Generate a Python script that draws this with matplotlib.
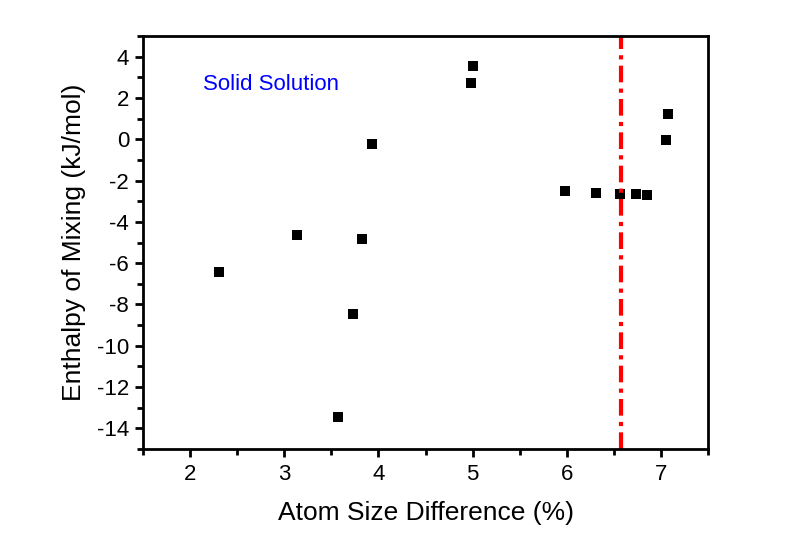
import matplotlib.pyplot as plt
from matplotlib.ticker import MultipleLocator

# atom size difference (%) and enthalpy of mixing (kJ/mol)
size_diff = [2.31, 3.14, 3.57, 3.73, 3.82, 3.93, 4.98, 5.00,
             5.98, 6.31, 6.56, 6.73, 6.85, 7.05, 7.07]
enthalpy = [-6.45, -4.65, -13.45, -8.45, -4.85, -0.25, 2.7, 3.55,
            -2.5, -2.6, -2.65, -2.65, -2.7, -0.05, 1.2]
boundary = 6.58

plt.rcParams['font.family'] = ['Liberation Sans', 'DejaVu Sans']
plt.rcParams['axes.unicode_minus'] = False

fig = plt.figure(figsize=(8.09, 5.53), dpi=100)
ax = fig.add_axes([0.1768, 0.188, 0.6984, 0.7469])

ax.plot(size_diff, enthalpy, 's', color='black', ms=6.5, mew=0)
ax.axvline(boundary, color='red', lw=3, linestyle=(0, (4, 1.5, 1, 1.5)))

ax.text(2.14, 2.38, "Solid Solution", color='blue', fontsize=16,
        va='baseline')

ax.set_xlim(1.5, 7.5)
ax.set_ylim(-15, 5)
ax.xaxis.set_major_locator(MultipleLocator(1))
ax.xaxis.set_minor_locator(MultipleLocator(0.5))
ax.yaxis.set_major_locator(MultipleLocator(2))
ax.yaxis.set_minor_locator(MultipleLocator(1))

for s in ax.spines.values():
    s.set_linewidth(2)
ax.tick_params(which='both', direction='out', width=2, labelsize=16,
               top=False, right=False)
ax.tick_params(axis='x', pad=5)
ax.tick_params(axis='y', pad=4)
ax.tick_params(which='major', length=6)
ax.tick_params(which='minor', length=4)

ax.set_xlabel("Atom Size Difference (%)", fontsize=19, labelpad=11)
ax.set_ylabel("Enthalpy of Mixing (kJ/mol)", fontsize=19, labelpad=8)

fig.savefig("out.png")
plt.close()
